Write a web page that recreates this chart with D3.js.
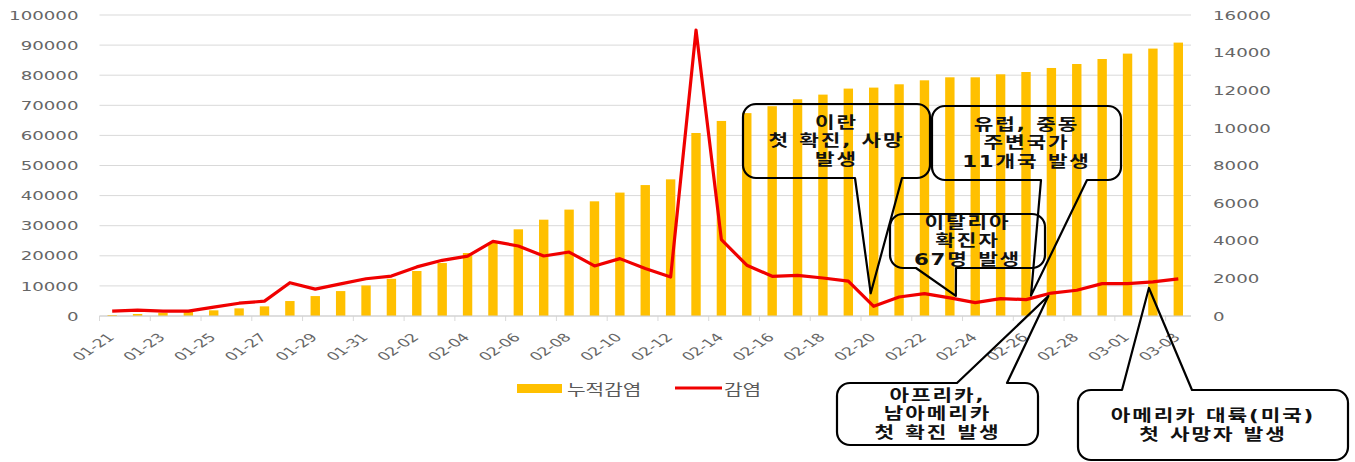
<!DOCTYPE html>
<html><head><meta charset="utf-8">
<script src="https://cdn.jsdelivr.net/npm/d3@7"></script>
<style>html,body{margin:0;padding:0;background:#fff;} svg{display:block}</style>
</head><body>
<svg id="c" width="1355" height="462"></svg>
<script>
const dates = ["01-21","01-22","01-23","01-24","01-25","01-26","01-27","01-28","01-29","01-30","01-31",
"02-01","02-02","02-03","02-04","02-05","02-06","02-07","02-08","02-09","02-10","02-11","02-12","02-13","02-14",
"02-15","02-16","02-17","02-18","02-19","02-20","02-21","02-22","02-23","02-24","02-25","02-26","02-27","02-28","02-29",
"03-01","03-02","03-03"];
const cumulative = [330,660,1100,1330,1880,2540,3200,4970,6620,8280,10150,
12360,14950,17600,20930,24390,28800,32000,35350,38100,41000,43500,45400,60800,64800,
67400,69700,72000,73550,75550,75880,76980,78300,79300,79300,80300,81060,82400,83720,85380,
87170,88840,90830];
const daily = [255,310,255,255,470,680,790,1770,1430,1710,1980,
2120,2610,2960,3180,3970,3720,3190,3400,2660,3050,2520,2070,15200,4060,
2700,2110,2160,2020,1850,515,1010,1190,960,710,925,870,1220,1370,1720,
1720,1810,1970];
const leftTicks = [0,10000,20000,30000,40000,50000,60000,70000,80000,90000,100000];
const rightTicks = [0,2000,4000,6000,8000,10000,12000,14000,16000];
const seriesNames = ["누적감염","감염"];
const annotations = [
  {lines:["이란","첫 확진, 사망","발생"], date:"02-20"},
  {lines:["이탈리아","확진자","67명 발생"], date:"02-23"},
  {lines:["유럽, 중동","주변국가","11개국 발생"], date:"02-26"},
  {lines:["아프리카,","남아메리카","첫 확진 발생"], date:"02-27"},
  {lines:["아메리카 대륙(미국)","첫 사망자 발생"], date:"03-02"}
];
// layout of callout bubbles (box, tail base, apex offset)
const bubbleLayout = [
  {x0:743,y0:104,x1:930,y1:178,side:"bottom",tA:855,tB:902,dx:-3,dy:-13},
  {x0:890,y0:214,x1:1045,y1:268,side:"bottom",tA:916,tB:956,dx:6,dy:-2},
  {x0:932,y0:106,x1:1121,y1:180,side:"bottom",tA:1041,tB:1087,dx:5,dy:-4},
  {x0:837,y0:383,x1:1038,y1:445,side:"top",tA:957,tB:1007,dx:-3,dy:3},
  {x0:1078,y0:390,x1:1348,y1:460,side:"top",tA:1122,tB:1192,dx:-4,dy:6}
];

const svg = d3.select("#c");
const L = 99.5, R = 1191, T = 15, B = 316;
const x = d3.scaleBand().domain(dates).range([L, R]).padding(0);
const cx = d => x(d) + x.bandwidth()/2;
const yL = d3.scaleLinear().domain([0,100000]).range([B,T]);
const yR = d3.scaleLinear().domain([0,16000]).range([B,T]);
const gold = "#FFC000", red = "#F00000", grid = "#d9d9d9", txt = "#666";
const SX = 1.4;

// gridlines
svg.append("g").selectAll("line").data(leftTicks).join("line")
  .attr("x1", L).attr("x2", R).attr("y1", d=>yL(d)).attr("y2", d=>yL(d))
  .attr("stroke", grid).attr("stroke-width", 1);

// bars
const bw = x.step()*0.37;
svg.append("g").selectAll("rect").data(dates).join("rect")
  .attr("x", (d)=>cx(d)-bw/2).attr("width", bw)
  .attr("y", (d,i)=>yL(cumulative[i])).attr("height", (d,i)=>B - yL(cumulative[i]))
  .attr("fill", gold);

// x-axis ticks at band edges every 2 days
svg.append("g").selectAll("line").data(dates.filter((d,i)=>i%2===0)).join("line")
  .attr("x1", d=>x(d)).attr("x2", d=>x(d)).attr("y1", B).attr("y2", B+5)
  .attr("stroke", grid);
svg.append("line").attr("x1",L).attr("x2",R).attr("y1",B).attr("y2",B).attr("stroke","#d0d0d0");

// line
svg.append("path").datum(daily)
  .attr("d", d3.line().x((d,i)=>cx(dates[i])).y(d=>yR(d)))
  .attr("fill","none").attr("stroke", red).attr("stroke-width", 3.2).attr("stroke-linejoin","round");

// axes
const ga = svg.append("g").attr("transform", `translate(${L},0)`)
  .call(d3.axisLeft(yL).tickValues(leftTicks).tickSize(0).tickFormat(d3.format("d")));
ga.select(".domain").remove();
ga.selectAll("text").attr("x",0).attr("transform", `translate(-21,0) scale(${SX},1)`)
  .attr("fill", txt).style("font-family","DejaVu Sans").style("font-size","13px");

const gr = svg.append("g").attr("transform", `translate(${R},0)`)
  .call(d3.axisRight(yR).tickValues(rightTicks).tickSize(0).tickFormat(d3.format("d")));
gr.select(".domain").remove();
gr.selectAll("text").attr("x",0).attr("transform", `translate(22,0) scale(${SX},1)`)
  .attr("fill", txt).style("font-family","DejaVu Sans").style("font-size","13px");

const gb = svg.append("g").attr("transform", `translate(0,${B})`)
  .call(d3.axisBottom(x).tickValues(dates.filter((d,i)=>i%2===0)).tickSize(0));
gb.select(".domain").remove();
gb.selectAll("text").attr("x",0).attr("y",0).attr("dy",0)
  .attr("text-anchor","end")
  .attr("transform", "translate(3,22) scale(1.5,1) rotate(-45)")
  .attr("fill", txt).style("font-family","DejaVu Sans").style("font-size","11.5px");

// legend
const lg = svg.append("g");
lg.append("rect").attr("x",517).attr("y",384).attr("width",45).attr("height",9).attr("fill",gold);
lg.append("text").attr("transform",`translate(567,388) scale(1.35,1)`).attr("dominant-baseline","central")
  .style("font-family","Noto Sans CJK KR").style("font-size","15px").attr("fill","#595959").text(seriesNames[0]);
lg.append("line").attr("x1",675).attr("x2",722).attr("y1",388).attr("y2",388).attr("stroke",red).attr("stroke-width",3);
lg.append("text").attr("transform",`translate(724,388) scale(1.35,1)`).attr("dominant-baseline","central")
  .style("font-family","Noto Sans CJK KR").style("font-size","15px").attr("fill","#595959").text(seriesNames[1]);

// callouts
function bubblePath(b, ax, ay){
  const r = 13, {x0,y0,x1,y1,tA,tB} = b;
  if (b.side === "bottom") {
    return `M${x0+r},${y0}H${x1-r}A${r},${r} 0 0 1 ${x1},${y0+r}V${y1-r}A${r},${r} 0 0 1 ${x1-r},${y1}`+
      `H${tB}L${ax},${ay}L${tA},${y1}H${x0+r}A${r},${r} 0 0 1 ${x0},${y1-r}V${y0+r}A${r},${r} 0 0 1 ${x0+r},${y0}Z`;
  }
  return `M${x0+r},${y0}H${tA}L${ax},${ay}L${tB},${y0}H${x1-r}A${r},${r} 0 0 1 ${x1},${y0+r}V${y1-r}A${r},${r} 0 0 1 ${x1-r},${y1}`+
    `H${x0+r}A${r},${r} 0 0 1 ${x0},${y1-r}V${y0+r}A${r},${r} 0 0 1 ${x0+r},${y0}Z`;
}
annotations.forEach((a, k) => {
  const b = bubbleLayout[k];
  const i = dates.indexOf(a.date);
  const ax = cx(a.date) + b.dx, ay = yR(daily[i]) + b.dy;
  const g = svg.append("g");
  g.append("path").attr("d", bubblePath(b, ax, ay)).attr("fill","none")
    .attr("stroke","#000").attr("stroke-width",2.2).attr("stroke-linejoin","round");
  const mx = (b.x0+b.x1)/2, my = (b.y0+b.y1)/2, n = a.lines.length, lh = 18.8;
  a.lines.forEach((s, j) => {
    g.append("text").attr("transform", `translate(${mx},${my + (j-(n-1)/2)*lh}) scale(1.35,1)`)
      .attr("text-anchor","middle").attr("dominant-baseline","central")
      .style("font-family","'DejaVu Sans','Noto Sans CJK KR'").style("font-weight","700").style("font-size","15.8px")
      .style("letter-spacing","1.4px").attr("fill","#111").text(s);
  });
});
</script></body></html>
